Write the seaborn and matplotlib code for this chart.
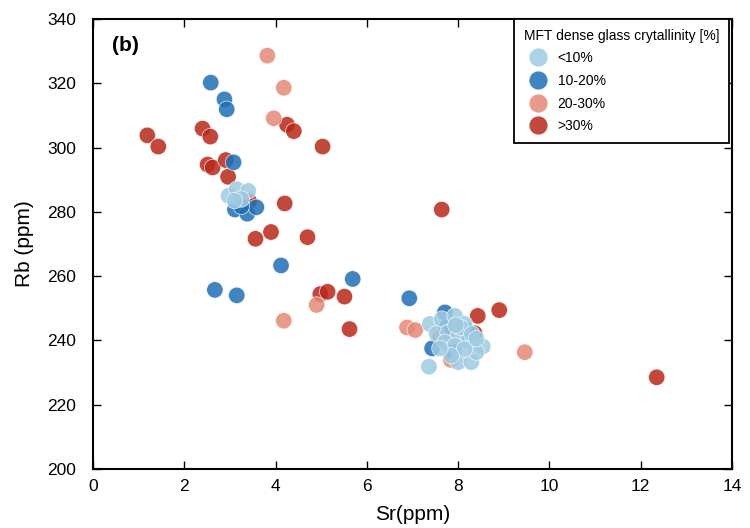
import pandas as pd
import seaborn as sns
import matplotlib.pyplot as plt

# >30 %
sr_gt30 = [1.19, 1.43, 2.40, 2.57, 4.25, 4.40, 5.03, 2.51, 2.62, 2.91, 2.96, 4.20, 3.42,
           3.56, 3.90, 4.70, 4.98, 5.14, 5.51, 5.62, 7.64, 8.43, 8.90, 8.36, 12.35, 7.75]
rb_gt30 = [303.8, 300.3, 305.9, 303.4, 307.1, 305.1, 300.3, 294.7, 293.8, 296.1, 290.9, 282.6, 283.3,
           271.6, 273.7, 272.1, 254.4, 255.1, 253.6, 243.5, 280.7, 247.6, 249.4, 242.2, 228.5, 244.0]

# 20-30 %
sr_20_30 = [3.82, 4.18, 3.96, 4.18, 4.90, 6.88, 7.06, 7.84, 9.46, 7.60]
rb_20_30 = [328.6, 318.6, 309.1, 246.1, 251.0, 244.0, 243.2, 233.9, 236.3, 241.0]

# 10-20 %
sr_10_20 = [2.58, 2.88, 2.93, 3.08, 3.11, 3.38, 3.58, 3.25, 4.12, 2.67, 3.15, 5.69,
            6.93, 7.71, 7.43, 7.90, 7.75, 8.20]
rb_10_20 = [320.2, 315.0, 311.9, 295.4, 280.7, 279.4, 281.4, 281.7, 263.3, 255.7, 254.0, 259.1,
            253.1, 248.7, 237.5, 236.5, 244.0, 243.0]

# <10 %
sr_lt10 = [2.97, 3.15, 3.40, 3.25, 3.10,
           7.36, 7.38, 7.64, 7.93, 8.14, 8.54, 8.00, 8.29, 8.40, 7.53, 7.78, 8.00,
           8.22, 7.71, 7.93, 8.14, 7.85, 8.05, 8.30, 7.60, 8.40, 7.95]
rb_lt10 = [285.0, 287.0, 286.5, 284.0, 283.5,
           231.8, 245.1, 246.6, 247.6, 245.1, 238.1, 233.2, 233.2, 236.3, 242.0, 242.5, 241.4,
           239.9, 239.4, 238.3, 237.3, 235.2, 244.0, 242.0, 237.5, 240.5, 244.7]

classes = ["<10%", "10-20%", "20-30%", ">30%"]
palette = {"<10%": "#9ecae1", "10-20%": "#1f6fb4", "20-30%": "#e68a77", ">30%": "#b9281a"}

# drawing order: reds first, light blue on top
df = pd.concat([
    pd.DataFrame({"Sr": sr_gt30, "Rb": rb_gt30, "cls": ">30%"}),
    pd.DataFrame({"Sr": sr_20_30, "Rb": rb_20_30, "cls": "20-30%"}),
    pd.DataFrame({"Sr": sr_10_20, "Rb": rb_10_20, "cls": "10-20%"}),
    pd.DataFrame({"Sr": sr_lt10, "Rb": rb_lt10, "cls": "<10%"}),
], ignore_index=True)

sns.set_style("ticks")
plt.rcParams['font.family'] = ['Liberation Sans', 'DejaVu Sans']
plt.rcParams['text.color'] = 'black'
plt.rcParams['axes.labelcolor'] = 'black'
plt.rcParams['xtick.color'] = 'black'
plt.rcParams['ytick.color'] = 'black'

fig, ax = plt.subplots(figsize=(7.5, 5.28), dpi=100)
fig.subplots_adjust(left=0.124, right=0.976, bottom=0.112, top=0.964)

sns.scatterplot(data=df, x="Sr", y="Rb", hue="cls", hue_order=classes, palette=palette,
                s=140, alpha=0.85, edgecolor="white", linewidth=0.5, ax=ax)

ax.set_xlim(0, 14)
ax.set_ylim(200, 340)
ax.set_xticks(range(0, 15, 2))
ax.set_yticks(range(200, 341, 20))
ax.tick_params(direction="in", length=6, width=1, top=True, right=True, labelsize=12.5)
ax.tick_params(axis="y", pad=12)
ax.tick_params(axis="x", pad=7)
for sp in ax.spines.values():
    sp.set_linewidth(1.5)
    sp.set_color("black")
ax.set_xlabel("Sr(ppm)", fontsize=15, labelpad=8)
ax.set_ylabel("Rb (ppm)", fontsize=15, labelpad=10)

ax.text(0.03, 0.94, "(b)", transform=ax.transAxes, fontsize=15, fontweight="bold",
        ha="left", va="center")

leg = ax.legend(title="MFT dense glass crytallinity [%]", loc="upper right",
                bbox_to_anchor=(0.996, 1.0), borderaxespad=0.0,
                fontsize=10, title_fontsize=10, frameon=True, fancybox=False,
                edgecolor="black", labelspacing=0.62, borderpad=0.7,
                handletextpad=0.4, markerscale=1.15, alignment="left")
leg.get_frame().set_linewidth(1.3)
leg.get_frame().set_alpha(1)

fig.savefig("out.png", dpi=100)
plt.close()
